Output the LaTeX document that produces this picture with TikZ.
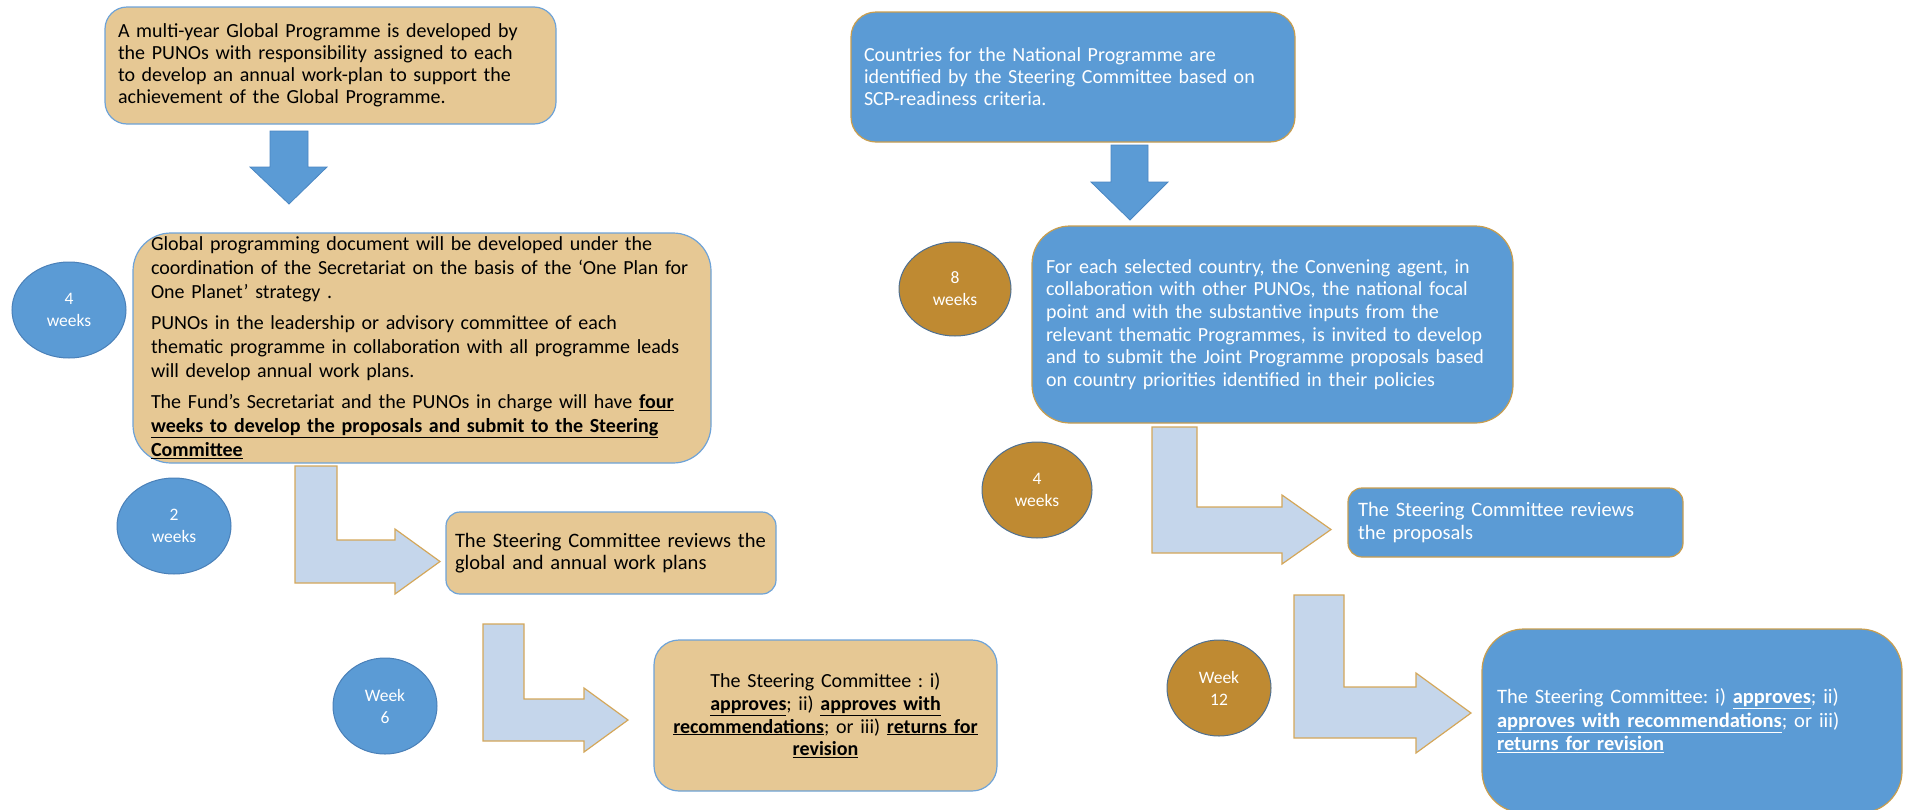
\documentclass[tikz,border=0pt]{standalone}
\usepackage{fontspec}
\setmainfont{Carlito}
\usetikzlibrary{shapes.geometric}
\definecolor{tanfill}{HTML}{E6C894}
\definecolor{mainblue}{HTML}{5B9BD5}
\definecolor{tanline}{HTML}{6EA3D8}
\definecolor{goldline}{HTML}{C99E4E}
\definecolor{arrowline}{HTML}{D4A75A}
\definecolor{lightfill}{HTML}{C5D6EB}
\definecolor{brownfill}{HTML}{BF8A32}
\definecolor{browncircline}{HTML}{4E7092}
\definecolor{bluecircline}{HTML}{4A80B8}
\definecolor{blockline}{HTML}{4A86C2}
\newcommand{\keepline}[1]{\mbox{#1}}
\newcommand{\uln}[1]{\underline{#1}}
\frenchspacing
\tikzset{
  basefont/.style={font=\fontsize{20}{22.5}\selectfont},
  tanbox/.style={basefont, rectangle, fill=tanfill, draw=tanline, line width=1.2pt, text=black, inner sep=0pt, align=left},
  bluebox/.style={basefont, rectangle, fill=mainblue, draw=goldline, line width=1.2pt, text=white, inner sep=0pt, align=left},
  circbase/.style={ellipse, inner sep=0pt, text=white, align=center, line width=1pt, font=\fontsize{17.5}{22}\selectfont},
  bluecirc/.style={circbase, fill=mainblue, draw=bluecircline},
  browncirc/.style={circbase, fill=brownfill, draw=browncircline},
  blockarrow/.style={fill=mainblue, draw=blockline, line width=0.8pt},
  larrow/.style={fill=lightfill, draw=arrowline, line width=1.2pt, line join=miter}
}
\begin{document}
\begin{tikzpicture}[x=1pt,y=-1pt]
\useasboundingbox (0,0) rectangle (1908,809);

% ---------------- left column ----------------
\node[tanbox, rounded corners=22pt, minimum width=451pt, minimum height=117pt, text width=425pt, font=\fontsize{20}{22}\selectfont] (b1) at (330.5,65.5)
 {\keepline{A multi-year Global Programme is developed by}\\
  \keepline{the PUNOs with responsibility assigned to each}\\
  \keepline{to develop an annual work-plan to support the}\\
  \keepline{achievement of the Global Programme.}};

\node[tanbox, rounded corners=38pt, minimum width=578pt, minimum height=230pt, text width=542pt, font=\fontsize{20}{24}\selectfont] (b2) at (422,348)
 {\keepline{Global programming document will be developed under the}\\
  \keepline{coordination of the Secretariat on the basis of the ‘One Plan for}\\
  \keepline{One Planet’ strategy .}\\[7pt]
  \keepline{PUNOs in the leadership or advisory committee of each}\\
  \keepline{thematic programme in collaboration with all programme leads}\\
  \keepline{will develop annual work plans.}\\[7pt]
  \keepline{The Fund’s Secretariat and the PUNOs in charge will have \uln{\textbf{four}}}\\
  \keepline{\uln{\textbf{weeks to develop the proposals and submit to the Steering}}}\\
  \keepline{\uln{\textbf{Committee}}}};

\node[tanbox, rounded corners=14pt, minimum width=330pt, minimum height=82pt, text width=312pt, font=\fontsize{20.5}{22}\selectfont] (b3) at (611,553)
 {\keepline{The Steering Committee reviews the}\\
  \keepline{global and annual work plans}};

\node[tanbox, rounded corners=25pt, minimum width=343pt, minimum height=151pt, text width=325pt, align=center, font=\fontsize{20}{22.7}\selectfont] (b4) at (825.5,715.5)
 {\keepline{The Steering Committee : i)}\\
  \keepline{\uln{\textbf{approves}}; ii) \uln{\textbf{approves with}}}\\
  \keepline{\uln{\textbf{recommendations}}; or iii) \uln{\textbf{returns for}}}\\
  \keepline{\uln{\textbf{revision}}}};

\node[bluecirc, minimum width=114pt, minimum height=96pt] (c1) at (69,310) {4\\weeks};
\node[bluecirc, minimum width=114pt, minimum height=96pt] (c2) at (174,526) {2\\weeks};
\node[bluecirc, minimum width=104pt, minimum height=96pt] (c3) at (385,706) {Week\\6};

% block arrow b1 -> b2
\draw[blockarrow] (270,131) -- (308,131) -- (308,167) -- (327,167) -- (289,204) -- (250,167) -- (270,167) -- cycle;

% bent arrows
\draw[larrow] (295,466) -- (337,466) -- (337,540) -- (395,540) -- (395,529) -- (440,561.5) -- (395,594) -- (395,583) -- (295,583) -- cycle;
\draw[larrow] (483,624) -- (524,624) -- (524,699) -- (584,699) -- (584,688) -- (628,720) -- (584,752) -- (584,741) -- (483,741) -- cycle;

% ---------------- right column ----------------
\node[bluebox, rounded corners=25pt, minimum width=444pt, minimum height=130pt, text width=418pt, font=\fontsize{20}{22}\selectfont] (b5) at (1073,77)
 {\keepline{Countries for the National Programme are}\\
  \keepline{identified by the Steering Committee based on}\\
  \keepline{SCP-readiness criteria.}};

\node[bluebox, rounded corners=38pt, minimum width=481pt, minimum height=197pt, text width=453pt, font=\fontsize{20}{22.6}\selectfont] (b6) at (1272.5,324.5)
 {\keepline{For each selected country, the Convening agent, in}\\
  \keepline{collaboration with other PUNOs, the national focal}\\
  \keepline{point and with the substantive inputs from the}\\
  \keepline{relevant thematic Programmes, is invited to develop}\\
  \keepline{and to submit the Joint Programme proposals based}\\
  \keepline{on country priorities identified in their policies}};

\node[bluebox, rounded corners=14pt, minimum width=335pt, minimum height=69pt, text width=315pt, font=\fontsize{20.5}{23}\selectfont] (b7) at (1515.5,522.5)
 {\keepline{The Steering Committee reviews}\\
  \keepline{the proposals}};

\node[bluebox, rounded corners=42pt, minimum width=420pt, minimum height=184pt, text width=390pt, font=\fontsize{20.5}{23.5}\selectfont] (b8) at (1692,721)
 {\keepline{The Steering Committee: i) \uln{\textbf{approves}}; ii)}\\
  \keepline{\uln{\textbf{approves with recommendations}}; or iii)}\\
  \keepline{\uln{\textbf{returns for revision}}}};

\node[browncirc, minimum width=112pt, minimum height=94pt] (c4) at (955,289) {8\\weeks};
\node[browncirc, minimum width=110pt, minimum height=96pt] (c5) at (1037,490) {4\\weeks};
\node[browncirc, minimum width=104pt, minimum height=96pt] (c6) at (1219,688) {Week\\12};

% block arrow b5 -> b6
\draw[blockarrow] (1111,145) -- (1148,145) -- (1148,182) -- (1168,182) -- (1130,220) -- (1091,182) -- (1111,182) -- cycle;

% bent arrows
\draw[larrow] (1152,427) -- (1197,427) -- (1197,507) -- (1282,507) -- (1282,495) -- (1331,529.5) -- (1282,564) -- (1282,553) -- (1152,553) -- cycle;
\draw[larrow] (1294,595) -- (1344,595) -- (1344,687) -- (1416,687) -- (1416,673) -- (1471,713) -- (1416,753) -- (1416,738) -- (1294,738) -- cycle;
\end{tikzpicture}
\end{document}
